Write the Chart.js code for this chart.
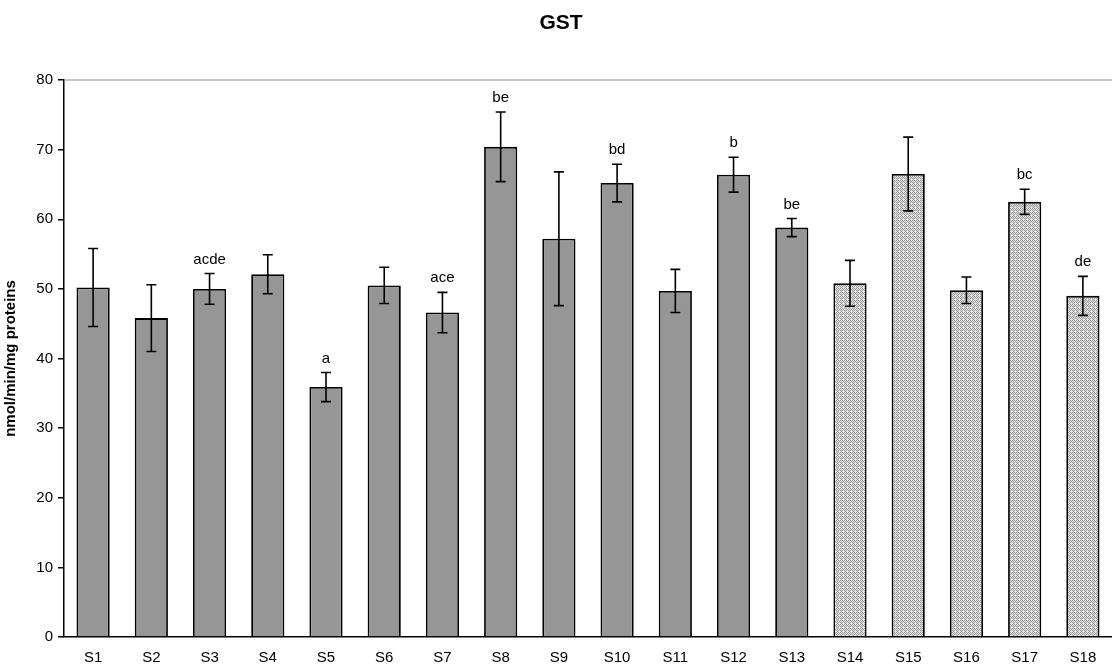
<!DOCTYPE html>
<html>
<head>
<meta charset="utf-8">
<script src="https://cdn.jsdelivr.net/npm/chart.js@4/dist/chart.umd.min.js"></script>
<style>
  html, body { margin: 0; padding: 0; background: #ffffff; }
  #wrap { width: 1112px; height: 666px; position: relative; }
</style>
</head>
<body>
<div id="wrap"><canvas id="chart" width="1112" height="666"></canvas></div>
<script>
// GST activity per sample
const chartTitle = 'GST';
const yAxisTitle = 'nmol/min/mg proteins';
const categories = ['S1','S2','S3','S4','S5','S6','S7','S8','S9','S10','S11','S12','S13','S14','S15','S16','S17','S18'];
const meanValues = [50.2, 45.8, 50.0, 52.1, 35.9, 50.5, 46.6, 70.4, 57.2, 65.2, 49.7, 66.4, 58.8, 50.8, 66.5, 49.8, 62.5, 49.0];
const errorValues = [5.6, 4.8, 2.2, 2.8, 2.1, 2.6, 2.9, 5.0, 9.6, 2.7, 3.1, 2.5, 1.3, 3.3, 5.3, 1.9, 1.8, 2.8];
const significance = ['', '', 'acde', '', 'a', '', 'ace', 'be', '', 'bd', '', 'b', 'be', '', '', '', 'bc', 'de'];
// samples S14..S18 are drawn with a dotted fill
const dottedGroup = [false, false, false, false, false, false, false, false, false, false, false, false, false, true, true, true, true, true];
const yTicks = [0, 10, 20, 30, 40, 50, 60, 70, 80];

const FONT = "'Liberation Sans', Arial, Helvetica, sans-serif";

// small dithered tile for the dotted bars
function makeDotPattern() {
  const c = document.createElement('canvas');
  c.width = 4; c.height = 4;
  const g = c.getContext('2d');
  g.fillStyle = '#e0e0e0';
  g.fillRect(0, 0, 4, 4);
  g.fillStyle = '#9c9c9c';
  [[0,0],[2,0],[1,1],[3,1],[0,2],[2,2],[1,3]].forEach(p => g.fillRect(p[0], p[1], 1, 1));
  return g.createPattern(c, 'repeat');
}
const dotPattern = makeDotPattern();

const errorBarPlugin = {
  id: 'errorBars',
  afterDatasetsDraw(chart) {
    const ctx = chart.ctx;
    const meta = chart.getDatasetMeta(0);
    const y = chart.scales.y;
    ctx.save();
    ctx.strokeStyle = '#000000';
    ctx.lineWidth = 1.6;
    meta.data.forEach((bar, i) => {
      const x = bar.x;
      const top = y.getPixelForValue(meanValues[i] + errorValues[i]);
      const bot = y.getPixelForValue(meanValues[i] - errorValues[i]);
      const cap = 5;
      ctx.beginPath();
      ctx.moveTo(x, top); ctx.lineTo(x, bot);
      ctx.moveTo(x - cap, top); ctx.lineTo(x + cap, top);
      ctx.moveTo(x - cap, bot); ctx.lineTo(x + cap, bot);
      ctx.stroke();
      if (significance[i]) {
        ctx.fillStyle = '#000000';
        ctx.font = '15px ' + FONT;
        ctx.textAlign = 'center';
        ctx.textBaseline = 'middle';
        ctx.fillText(significance[i], x, top - 14);
      }
    });
    ctx.restore();
  }
};

const framePlugin = {
  id: 'frame',
  beforeDatasetsDraw(chart) {
    const { ctx, chartArea } = chart;
    ctx.save();
    ctx.strokeStyle = '#8c8c8c';
    ctx.lineWidth = 1.2;
    ctx.beginPath();
    ctx.moveTo(chartArea.left, chartArea.top);
    ctx.lineTo(chartArea.right, chartArea.top);
    ctx.stroke();
    ctx.restore();
  },
  afterDraw(chart) {
    const ctx = chart.ctx;
    ctx.save();
    ctx.fillStyle = '#000000';
    ctx.font = 'bold 21px ' + FONT;
    ctx.textAlign = 'center';
    ctx.textBaseline = 'middle';
    ctx.fillText(chartTitle, chart.width / 2 + 5, 23);
    ctx.restore();
  }
};

new Chart(document.getElementById('chart'), {
  type: 'bar',
  data: {
    labels: categories,
    datasets: [{
      data: meanValues,
      backgroundColor: dottedGroup.map(d => d ? dotPattern : '#969696'),
      borderColor: '#000000',
      borderWidth: 1.8,
      barPercentage: 0.57,
      categoryPercentage: 1.0
    }]
  },
  options: {
    responsive: false,
    animation: false,
    devicePixelRatio: 1,
    layout: { padding: { top: 80, right: 0, bottom: 0, left: 0 } },
    plugins: { legend: { display: false }, title: { display: false }, tooltip: { enabled: false } },
    scales: {
      x: {
        grid: { display: false, drawTicks: false },
        border: { display: true, color: '#000000', width: 1.5 },
        ticks: { color: '#000000', font: { family: FONT, size: 15 }, padding: 12, maxRotation: 0, autoSkip: false },
        afterFit(s) { s.height = 29; }
      },
      y: {
        min: 0, max: 80,
        afterBuildTicks(s) { s.ticks = yTicks.map(v => ({ value: v })); },
        grid: { drawOnChartArea: false, drawTicks: true, tickLength: 6, color: '#000000', lineWidth: 1.5 },
        border: { display: true, color: '#000000', width: 1.5 },
        ticks: { color: '#000000', font: { family: FONT, size: 15 }, padding: 5 },
        title: { display: true, text: yAxisTitle, color: '#000000', font: { family: FONT, size: 15, weight: 'bold' }, padding: { top: 2, bottom: 0 } },
        afterFit(s) { s.width = 64; }
      }
    }
  },
  plugins: [errorBarPlugin, framePlugin]
});
</script>
</body>
</html>
